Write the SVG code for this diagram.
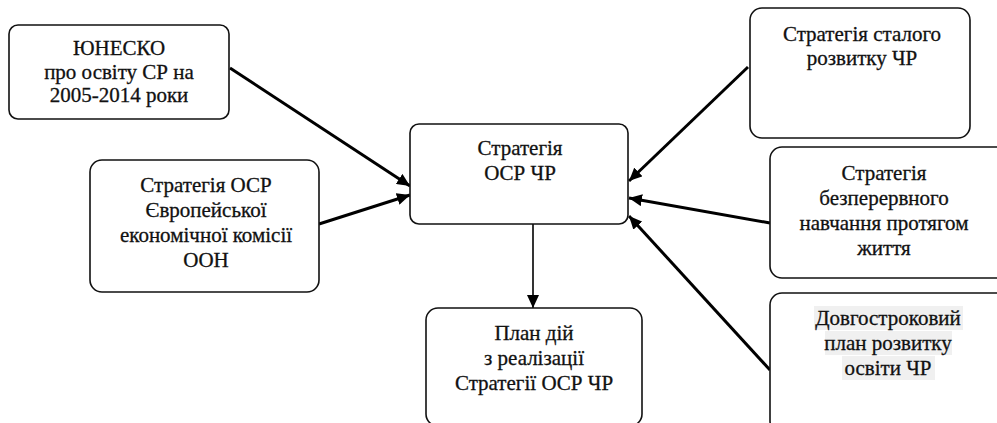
<svg xmlns="http://www.w3.org/2000/svg" width="997" height="423" viewBox="0 0 997 423">
<style>
.box{fill:#fff;stroke:#111;stroke-width:1.6}
.t{font-size:21px;fill:#111;stroke:#111;stroke-width:0.3;text-anchor:middle}
.c{stroke:#000;stroke-width:3;fill:none}
.hl{fill:#f0f0f0}
</style>
<defs>
<marker id="ah" markerUnits="userSpaceOnUse" markerWidth="14" markerHeight="12" refX="13" refY="6" orient="auto">
<path d="M0,0 L13,6 L0,12 Z" fill="#000"/>
</marker>
</defs>
<rect width="997" height="423" fill="#fff"/>
<g id="connectors">
<line class="c" x1="230" y1="68" x2="410" y2="186" marker-end="url(#ah)"/>
<line class="c" x1="319" y1="224" x2="410" y2="195" marker-end="url(#ah)"/>
<line class="c" x1="748" y1="67" x2="629" y2="181" marker-end="url(#ah)"/>
<line class="c" x1="770" y1="223" x2="629" y2="198" marker-end="url(#ah)"/>
<line class="c" x1="770" y1="370" x2="629" y2="216" marker-end="url(#ah)"/>
<line class="c" style="stroke-width:1.6" x1="533" y1="224" x2="533" y2="308" marker-end="url(#ah)"/>
</g>
<g font-family="Liberation Serif, Times New Roman, serif">
<g id="unesco">
<rect class="box" x="9" y="25" width="220" height="94" rx="9"/>
<text class="t" x="119" y="55">ЮНЕСКО</text>
<text class="t" x="119" y="79">про освіту СР на</text>
<text class="t" x="119" y="102">2005-2014 роки</text>
</g>
<g id="unece">
<rect class="box" x="90" y="160" width="229" height="132" rx="12"/>
<text class="t" x="206" y="192">Стратегія ОСР</text>
<text class="t" x="206" y="217">Європейської</text>
<text class="t" x="206" y="242">економічної комісії</text>
<text class="t" x="206" y="267">ООН</text>
</g>
<g id="central">
<rect class="box" x="410" y="124" width="218" height="100" rx="9"/>
<text class="t" x="520" y="155">Стратегія</text>
<text class="t" x="520" y="180">ОСР ЧР</text>
</g>
<g id="plan">
<rect class="box" x="426" y="308" width="216" height="118" rx="12"/>
<text class="t" x="534" y="340">План дій</text>
<text class="t" x="534" y="365">з реалізації</text>
<text class="t" x="534" y="390">Стратегії ОСР ЧР</text>
</g>
<g id="sustainable">
<rect class="box" x="750" y="8" width="220" height="130" rx="12"/>
<text class="t" x="862" y="41">Стратегія сталого</text>
<text class="t" x="862" y="65">розвитку ЧР</text>
</g>
<g id="lifelong">
<rect class="box" x="770" y="147" width="240" height="131" rx="12"/>
<text class="t" x="884" y="180">Стратегія</text>
<text class="t" x="884" y="205">безперервного</text>
<text class="t" x="884" y="230">навчання протягом</text>
<text class="t" x="884" y="255">життя</text>
</g>
<g id="longterm">
<rect class="box" x="770" y="293" width="240" height="140" rx="12"/>
<rect class="hl" x="814" y="306" width="149" height="24"/>
<rect class="hl" x="825" y="331" width="127" height="24"/>
<rect class="hl" x="842" y="356" width="93" height="24"/>
<text class="t" x="888" y="325">Довгостроковий</text>
<text class="t" x="888" y="350">план розвитку</text>
<text class="t" x="888" y="375">освіти ЧР</text>
</g>
</g>
</svg>
